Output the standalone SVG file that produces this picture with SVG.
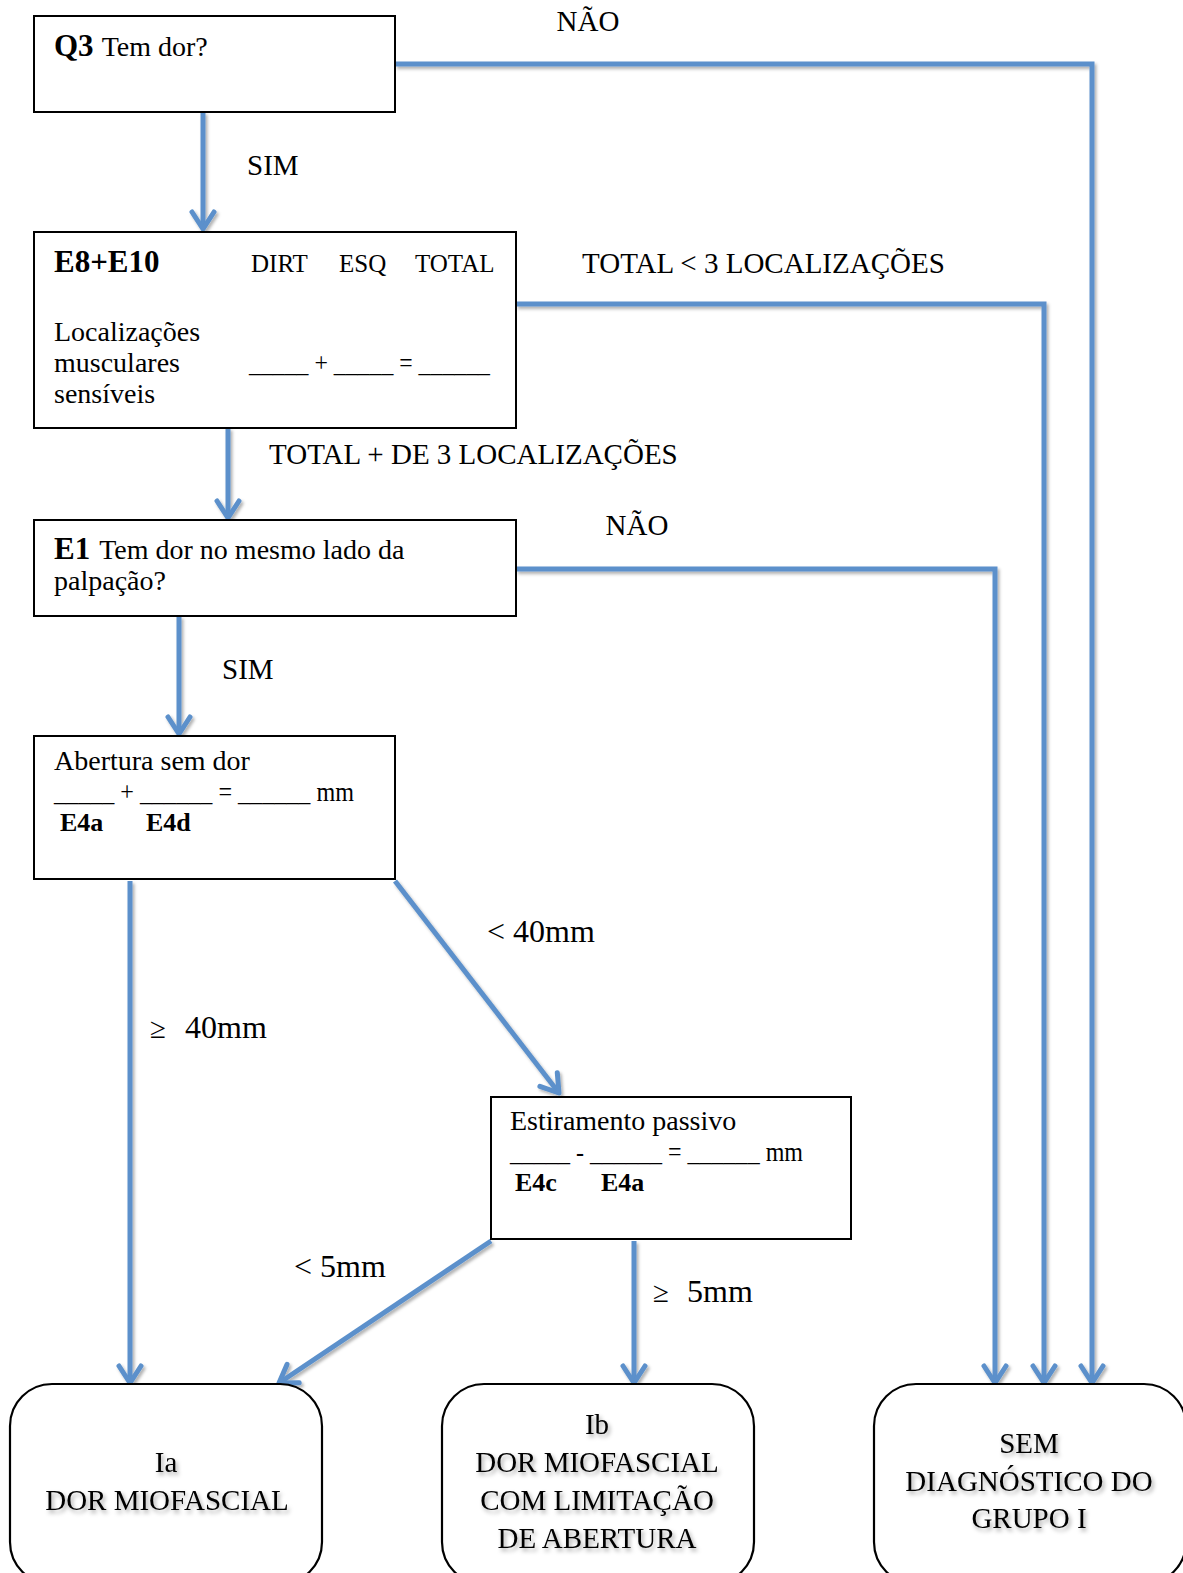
<svg xmlns="http://www.w3.org/2000/svg" width="1183" height="1573" viewBox="0 0 1183 1573">
<defs>
<style>
text{font-family:"Liberation Serif","Times New Roman",serif;fill:#000}
.box{fill:#fff;stroke:#000;stroke-width:2}
.rbox{fill:#fff;stroke:#000;stroke-width:2.2}
.t{font-size:28px}
.c{font-size:25px}
.b{font-size:31px;font-weight:bold}
.bs{font-size:26px;font-weight:bold}
.lbl{font-size:29px}
.mm{font-size:32px}
.end{font-size:29px;text-anchor:middle}
.conn path{fill:none;stroke:#5B90CB;stroke-width:5;marker-end:url(#ah)}
</style>
<marker id="ah" markerUnits="userSpaceOnUse" markerWidth="40" markerHeight="40" viewBox="-20 -20 40 40" refX="0" refY="0" orient="auto" overflow="visible">
<path d="M-17,-11 L0,0 L-17,11" fill="none" stroke="#5B90CB" stroke-width="5" stroke-linecap="round" stroke-linejoin="round"/>
</marker>
<filter id="sh" x="-10%" y="-10%" width="130%" height="130%">
<feDropShadow dx="2" dy="2.5" stdDeviation="1.5" flood-color="#000" flood-opacity="0.3"/>
</filter>
<filter id="tsh" x="-10%" y="-20%" width="130%" height="160%">
<feDropShadow dx="2" dy="3" stdDeviation="2" flood-color="#000" flood-opacity="0.35"/>
</filter>
</defs>
<rect width="1183" height="1573" fill="#fff"/>

<g id="connectors" class="conn" filter="url(#sh)">
<path d="M203,112 L203,229"/>
<path d="M395,64 L1092,64 L1092,1383"/>
<path d="M516,304 L1044,304 L1044,1383"/>
<path d="M228,428 L228,518"/>
<path d="M516,569 L995,569 L995,1383"/>
<path d="M179,616 L179,734"/>
<path d="M130,881 L130,1383"/>
<path d="M395,881 L559,1093"/>
<path d="M491,1241 L279,1383"/>
<path d="M634,1241 L634,1383"/>
</g>

<g id="labels">
<text class="lbl" x="588" y="31" text-anchor="middle">NÃO</text>
<text class="lbl" x="247" y="175">SIM</text>
<text class="lbl" x="582" y="273">TOTAL &lt; 3 LOCALIZAÇÕES</text>
<text class="lbl" x="269" y="464">TOTAL + DE 3 LOCALIZAÇÕES</text>
<text class="lbl" x="637" y="535" text-anchor="middle">NÃO</text>
<text class="lbl" x="222" y="679">SIM</text>
<text class="mm" x="487" y="942">&lt; 40mm</text>
<text class="lbl" x="150" y="1038">≥</text>
<text class="mm" x="185" y="1038">40mm</text>
<text class="mm" x="294" y="1277">&lt; 5mm</text>
<text class="lbl" x="653" y="1302">≥</text>
<text class="mm" x="687" y="1302">5mm</text>
</g>

<g id="q3">
<rect class="box" x="34" y="16" width="361" height="96"/>
<text x="54" y="56"><tspan class="b">Q3</tspan><tspan class="t" dx="8">Tem dor?</tspan></text>
</g>

<g id="e8e10">
<rect class="box" x="34" y="232" width="482" height="196"/>
<text class="b" x="54" y="272">E8+E10</text>
<text class="c" x="251" y="272">DIRT</text>
<text class="c" x="339" y="272">ESQ</text>
<text class="c" x="415" y="272">TOTAL</text>
<text class="t" x="54" y="341">Localizações</text>
<text class="t" x="54" y="372">musculares</text>
<text class="t" x="54" y="403">sensíveis</text>
<text class="t" x="249" y="372" textLength="241" lengthAdjust="spacingAndGlyphs">_____ + _____ = ______</text>
</g>

<g id="e1">
<rect class="box" x="34" y="520" width="482" height="96"/>
<text x="54" y="559"><tspan class="b">E1</tspan><tspan class="t" dx="9">Tem dor no mesmo lado da</tspan></text>
<text class="t" x="54" y="590">palpação?</text>
</g>

<g id="abertura">
<rect class="box" x="34" y="736" width="361" height="143"/>
<text class="t" x="54" y="770">Abertura sem dor</text>
<text class="t" x="54" y="801" textLength="300" lengthAdjust="spacingAndGlyphs">_____ + ______ = ______ mm</text>
<text class="bs" x="60" y="831">E4a</text>
<text class="bs" x="146" y="831">E4d</text>
</g>

<g id="estiramento">
<rect class="box" x="491" y="1097" width="360" height="142"/>
<text class="t" x="510" y="1130">Estiramento passivo</text>
<text class="t" x="510" y="1161" textLength="293" lengthAdjust="spacingAndGlyphs">_____ - ______ = ______ mm</text>
<text class="bs" x="515" y="1191">E4c</text>
<text class="bs" x="601" y="1191">E4a</text>
</g>

<g id="ia">
<rect class="rbox" x="10" y="1384" width="312" height="200" rx="42" ry="42"/>
<g filter="url(#tsh)">
<text class="end" x="166" y="1472">Ia</text>
<text class="end" x="167" y="1510">DOR MIOFASCIAL</text>
</g>
</g>

<g id="ib">
<rect class="rbox" x="442" y="1384" width="312" height="200" rx="42" ry="42"/>
<g filter="url(#tsh)">
<text class="end" x="597" y="1434">Ib</text>
<text class="end" x="597" y="1472">DOR MIOFASCIAL</text>
<text class="end" x="597" y="1510">COM LIMITAÇÃO</text>
<text class="end" x="597" y="1548">DE ABERTURA</text>
</g>
</g>

<g id="sem">
<rect class="rbox" x="874" y="1384" width="312" height="200" rx="42" ry="42"/>
<g filter="url(#tsh)">
<text class="end" x="1029" y="1453">SEM</text>
<text class="end" x="1029" y="1491">DIAGNÓSTICO DO</text>
<text class="end" x="1029" y="1528">GRUPO I</text>
</g>
</g>
</svg>
